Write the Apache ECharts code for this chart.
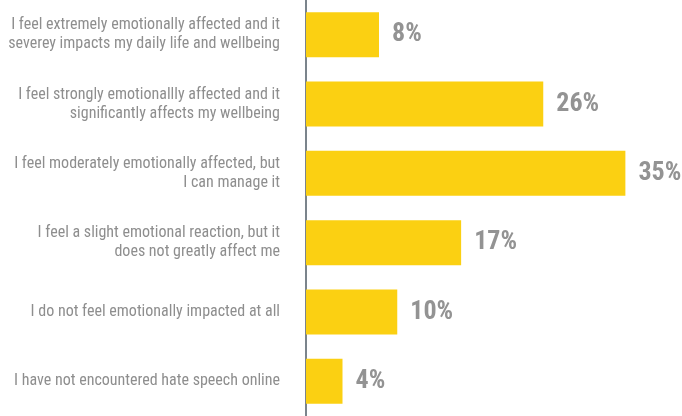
<!DOCTYPE html>
<html>
<head>
<meta charset="utf-8">
<script src="https://cdn.jsdelivr.net/npm/echarts@6/dist/echarts.min.js"></script>
<style>
  html, body { margin: 0; padding: 0; background: #ffffff; }
  #chart { width: 682px; height: 416px; }
</style>
</head>
<body>
<div id="chart"></div>
<script>
// Responses, listed top to bottom
const responses = [
  'I feel extremely emotionally affected and it\nseverey impacts my daily life and wellbeing',
  'I feel strongly emotionallly affected and it\nsignificantly affects my wellbeing',
  'I feel moderately emotionally affected, but\nI can manage it',
  'I feel a slight emotional reaction, but it\ndoes not greatly affect me',
  'I do not feel emotionally impacted at all',
  'I have not encountered hate speech online'
];
// Share of respondents, in percent
const shares = [8, 26, 35, 17, 10, 4];

const condensed = '"Roboto Condensed", "Liberation Sans Narrow", "Arial Narrow", Roboto, sans-serif';

const chart = echarts.init(document.getElementById('chart'), null, { renderer: 'canvas' });
chart.setOption({
  animation: false,
  backgroundColor: '#ffffff',
  grid: { left: 306, right: 11, top: -2, bottom: -2, containLabel: false },
  xAxis: {
    type: 'value',
    min: 0,
    max: 40,
    show: false
  },
  yAxis: {
    type: 'category',
    inverse: true,
    data: responses,
    axisLine: { show: true, lineStyle: { color: '#4f5b66', width: 1.5 } },
    axisTick: { show: false },
    axisLabel: {
      margin: 26,
      color: '#8e8e8e',
      fontFamily: condensed,
      fontSize: 16,
      lineHeight: 19,
      align: 'right'
    }
  },
  series: [{
    type: 'bar',
    data: shares,
    barWidth: 45,
    itemStyle: { color: '#fbd012' },
    label: {
      show: true,
      position: 'right',
      distance: 13,
      formatter: '{c}%',
      color: '#939393',
      fontFamily: condensed,
      fontWeight: 'bold',
      fontSize: 26
    }
  }]
});
</script>
</body>
</html>
